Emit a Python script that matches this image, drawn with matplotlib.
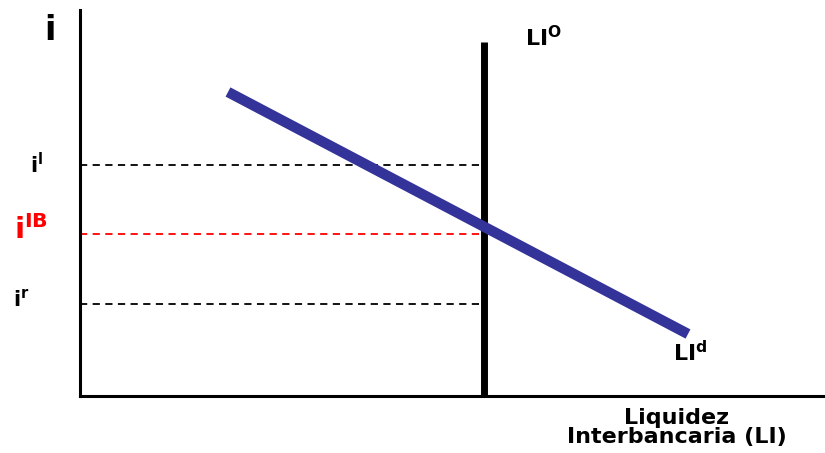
import matplotlib
matplotlib.use("Agg")
import matplotlib.pyplot as plt

# Data (in axis units)
demand_x = [148, 608]
demand_y = [304, 62]
supply_x = [404, 404]
supply_y = [0, 354]
rate_levels = [231, 162, 92]          # i^l, i^IB, i^r
rate_colors = ["black", "red", "black"]
rate_x_end = 404

plt.rcParams["mathtext.fontset"] = "dejavusans"
FONT = "DejaVu Sans"

fig = plt.figure(figsize=(8.25, 4.53), dpi=100)
ax = fig.add_axes([80/825, 57/453, 745/825, 386/453])
ax.set_xlim(0, 745)
ax.set_ylim(0, 386)

for s in ["top", "right"]:
    ax.spines[s].set_visible(False)
for s in ["left", "bottom"]:
    ax.spines[s].set_linewidth(2.2)
    ax.spines[s].set_color("black")
ax.set_xticks([])
ax.set_yticks([])

# dashed rate lines
for lvl, col in zip(rate_levels, rate_colors):
    ax.plot([0, rate_x_end], [lvl, lvl], color=col, lw=1.3,
            dashes=(4, 3), solid_capstyle="butt", clip_on=False, zorder=2)

# supply (vertical)
ax.plot(supply_x, supply_y, color="black", lw=5, solid_capstyle="butt",
        clip_on=False, zorder=3)
# demand
ax.plot(demand_x, demand_y, color="#333399", lw=7.5, solid_capstyle="butt",
        clip_on=False, zorder=4)

def t(x, y, s, size, color="black", ha="left", va="baseline", **kw):
    ax.text(x, y, s, fontsize=size, color=color, ha=ha, va=va,
            family=FONT, fontweight="bold", clip_on=False, **kw)

# y-axis label
t(-30, 356, "i", 24, ha="center")
# rate labels
t(-50, 223, r"$\mathbf{i}^{\mathbf{l}}$", 15)
t(-66, 157, r"$\mathbf{i}^{\mathbf{IB}}$", 21, color="red")
t(-67, 89, r"$\mathbf{i}^{\mathbf{r}}$", 15)
# curve labels
t(445, 350, r"$\mathbf{LI}^{\mathbf{O}}$", 16)
t(593, 35, r"$\mathbf{LI}^{\mathbf{d}}$", 16)
# x-axis title
t(597, -12, "Liquidez\nInterbancaria (LI)", 16, ha="center", va="top",
  multialignment="center", linespacing=0.95)

fig.savefig("out.png", dpi=100)
